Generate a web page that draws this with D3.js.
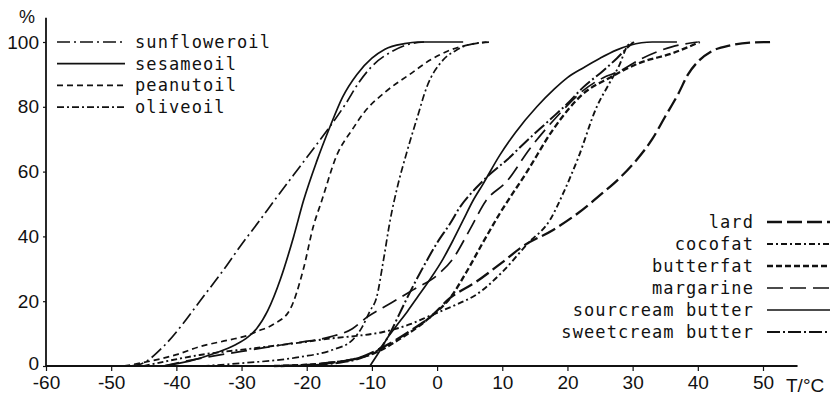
<!DOCTYPE html>
<html>
<head>
<meta charset="utf-8">
<script src="https://cdn.jsdelivr.net/npm/d3@7"></script>
<style>
  body { margin: 0; background: #fff; }
  svg { display: block; }
  .tick text { font-family: "Liberation Sans", Arial, sans-serif; }
  .leg { font-family: "DejaVu Sans Mono", monospace; font-size: 17px; letter-spacing: 1.1px; fill: #111; }
</style>
</head>
<body>
<div id="svgContainer"></div>
<script>
// melting curves, [temperature °C, % liquid]
var sunflowerOil = [[-47,0],[-45,1],[-42,6],[-39,13],[-36.4,20],[-33,29],[-30,37.5],[-27,45.5],[-25,51],[-22,59],[-19,67],[-16.4,74],[-14,81],[-12,87.5],[-10,92.5],[-7,97],[-4,99.5],[-2,100]];
var sesameOil = [[-42,0],[-38,1.5],[-34,4],[-31,6.5],[-29,9],[-27.7,11.5],[-26,17],[-24,27],[-22,40],[-20.5,51],[-18.5,63],[-16.4,74],[-14.5,83],[-12.3,90],[-10,95],[-8,97.8],[-5,99.5],[-3,100],[4,100]];
var peanutOil = [[-48,0],[-44.5,1.3],[-40,3.5],[-36.4,6],[-32,8],[-29,9.5],[-27.7,10.6],[-25,13],[-22.6,17.3],[-20.5,30],[-19,43],[-17.7,51],[-15.4,65],[-13,73],[-11.3,78],[-8,84.5],[-4.2,90],[-1,94.5],[2,97.5],[5,99.2],[7.6,100]];
var oliveOil = [[-36,0],[-29.8,0.9],[-21,2.8],[-16,5],[-13,8],[-11.5,12],[-10.3,17],[-9.3,21],[-8.2,33],[-7.2,45],[-6,56],[-4.7,65.6],[-3,77],[-1.6,86],[0.9,94.4],[3,97.5],[5,99.2],[8.1,100]];

var lard = [[-24,0],[-16.4,1],[-12,2.5],[-9.8,4.3],[-7.2,7],[-4,11],[-1.1,15],[2,21],[6,26],[10,32],[13.2,37],[17.8,42],[21.5,47],[25.4,53.4],[28,58],[30.6,63.6],[33,70],[35,77],[37,84],[38.5,90],[40.3,94.5],[42,97],[45,99],[48,99.8],[51.5,100]];
var cocofat = [[-45,0],[-36.4,3.4],[-28,5.5],[-20,7.5],[-16.4,8.5],[-12.3,9.3],[-8.3,10.5],[-4,13],[-1.1,15.5],[3,19],[6,22],[10,29],[14,38],[17.3,45],[19.5,54],[21.6,64],[24.5,80],[26.5,87.5],[28,93],[29.1,98.5],[29.8,100]];
var butterfat = [[-25,0],[-16.4,1],[-11,3],[-9,4.5],[-6,8],[-3,12],[-1.1,15],[2,21],[4.5,29],[7,38],[9.6,47],[13.8,60],[17.8,73],[22.4,84],[26.5,89],[31,93.5],[36.2,96.6],[40.3,100]];
var margarine = [[-42,0],[-36,2.5],[-30,4.5],[-23,6.8],[-16.4,9],[-13,11.5],[-10.8,15],[-7,19.5],[-3.7,23.5],[0,28],[2.4,33],[5,42],[7.5,51],[10.7,57],[14.2,67],[18.4,77],[22.4,85],[25.5,89],[28,91],[31,94.5],[36,98.5],[40,100]];
var sourcreamButter = [[-10.3,0],[-9,4],[-7.5,9],[-6.2,12.5],[-4.5,17],[-3.1,21],[-1,27],[0.9,33],[2.5,39],[4,45],[5.5,51],[7,56],[9.6,65],[12,72],[15.3,80],[18,85.5],[20,89],[22.4,92],[25,95],[27.5,97.5],[29.6,99],[33,100],[36.8,100]];
var sweetcreamButter = [[-22,0],[-15,1],[-11,3],[-8.5,6],[-7,11],[-5.8,16],[-4.6,21],[-2,31],[0,38],[2,44],[3.5,49],[6,55],[8,59],[10.7,63.6],[13.5,69],[17.3,76],[20,81],[22.4,86],[25.4,91],[27.6,95],[29.6,99],[30.2,100]];

var oilNames = ["sunfloweroil", "sesameoil", "peanutoil", "oliveoil"];
var oilSeries = [sunflowerOil, sesameOil, peanutOil, oliveOil];
var fatNames = ["lard", "cocofat", "butterfat", "margarine", "sourcream butter", "sweetcream butter"];
var fatSeries = [lard, cocofat, butterfat, margarine, sourcreamButter, sweetcreamButter];

var xTicks = [-60, -50, -40, -30, -20, -10, 0, 10, 20, 30, 40, 50];
var yTicks = [0, 20, 40, 60, 80, 100];

// line styles, by name
var dash = {
    "sunfloweroil": "13,4,2,4",
    "sesameoil": null,
    "peanutoil": "6,4",
    "oliveoil": "7,3,2,3",
    "lard": "15,5",
    "cocofat": "6,3,2,3",
    "butterfat": "6,3",
    "margarine": "16,7",
    "sourcream butter": null,
    "sweetcream butter": "13,3,2,3"
};
var width = {
    "lard": 2.3, "butterfat": 2.3, "sweetcream butter": 2, "cocofat": 1.9
};

var W = 835, H = 401;
var svg = d3.select("#svgContainer").append("svg")
    .attr("width", W)
    .attr("height", H);

var x = d3.scaleLinear().domain([-60, 50]).range([46, 763]);
var y = d3.scaleLinear().domain([0, 100]).range([366, 42]);

var line = d3.line()
    .x(function(d) { return x(d[0]); })
    .y(function(d) { return y(d[1]); })
    .curve(d3.curveMonotoneX);

// axes
var xAxis = svg.append("g")
    .attr("transform", "translate(0," + y(0) + ")")
    .call(d3.axisBottom(x).tickValues(xTicks).tickSize(5).tickPadding(5)
        .tickFormat(function(d) { return d < 0 ? "-" + Math.abs(d) : d; }));
xAxis.select(".domain").attr("d", "M" + x(-60) + ",0H" + x(55.3));

var yAxis = svg.append("g")
    .attr("transform", "translate(" + x(-60) + ",0)")
    .call(d3.axisLeft(y).tickValues(yTicks).tickSize(3).tickPadding(4));
yAxis.select(".domain").attr("d", "M0," + y(0) + "V" + y(107.5));

svg.selectAll(".tick text").attr("font-size", 19).attr("fill", "#111");
svg.selectAll(".tick line").attr("stroke", "#111").attr("stroke-width", 1.2);
svg.selectAll(".domain").attr("stroke", "#111").attr("stroke-width", 1.8);
// the "0" on the y axis sits just above the x labels
yAxis.selectAll(".tick text").filter(function(d) { return d === 0; }).attr("dy", "0.2em");

svg.append("text")
    .attr("x", 27).attr("y", 23)
    .attr("text-anchor", "middle")
    .attr("font-family", "Liberation Sans, Arial, sans-serif")
    .attr("font-size", 18).attr("fill", "#111")
    .text("%");
svg.append("text")
    .attr("x", 786).attr("y", 392)
    .attr("font-family", "Liberation Sans, Arial, sans-serif")
    .attr("font-size", 19).attr("fill", "#111")
    .text("T/°C");

// curves
var all = oilNames.map(function(n, i) { return { name: n, values: oilSeries[i] }; })
    .concat(fatNames.map(function(n, i) { return { name: n, values: fatSeries[i] }; }));

svg.selectAll("path.curve")
    .data(all)
    .enter().append("path")
    .attr("class", "curve")
    .attr("fill", "none")
    .attr("stroke", "#111")
    .attr("stroke-width", function(d) { return width[d.name] || 1.7; })
    .attr("stroke-dasharray", function(d) { return dash[d.name]; })
    .attr("d", function(d) { return line(d.values); });

// legend, oils (top left)
var oilLeg = svg.selectAll("g.oilleg")
    .data(oilNames)
    .enter().append("g")
    .attr("class", "oilleg")
    .attr("transform", function(d, i) { return "translate(0," + (42 + i * 21.7) + ")"; });
oilLeg.append("line")
    .attr("x1", 57).attr("x2", 125)
    .attr("stroke", "#111").attr("stroke-width", 1.7)
    .attr("stroke-dasharray", function(d) { return dash[d]; });
oilLeg.append("text")
    .attr("class", "leg")
    .attr("x", 135).attr("dy", "0.35em")
    .text(function(d) { return d; });

// legend, fats (bottom right)
var fatLeg = svg.selectAll("g.fatleg")
    .data(fatNames)
    .enter().append("g")
    .attr("class", "fatleg")
    .attr("transform", function(d, i) { return "translate(0," + (222 + i * 22) + ")"; });
fatLeg.append("line")
    .attr("x1", 767).attr("x2", 830)
    .attr("stroke", "#111")
    .attr("stroke-width", function(d) { return width[d] || 1.7; })
    .attr("stroke-dasharray", function(d) { return dash[d]; });
fatLeg.append("text")
    .attr("class", "leg")
    .attr("x", 754).attr("dy", "0.35em")
    .attr("text-anchor", "end")
    .text(function(d) { return d; });
</script>
</body>
</html>
